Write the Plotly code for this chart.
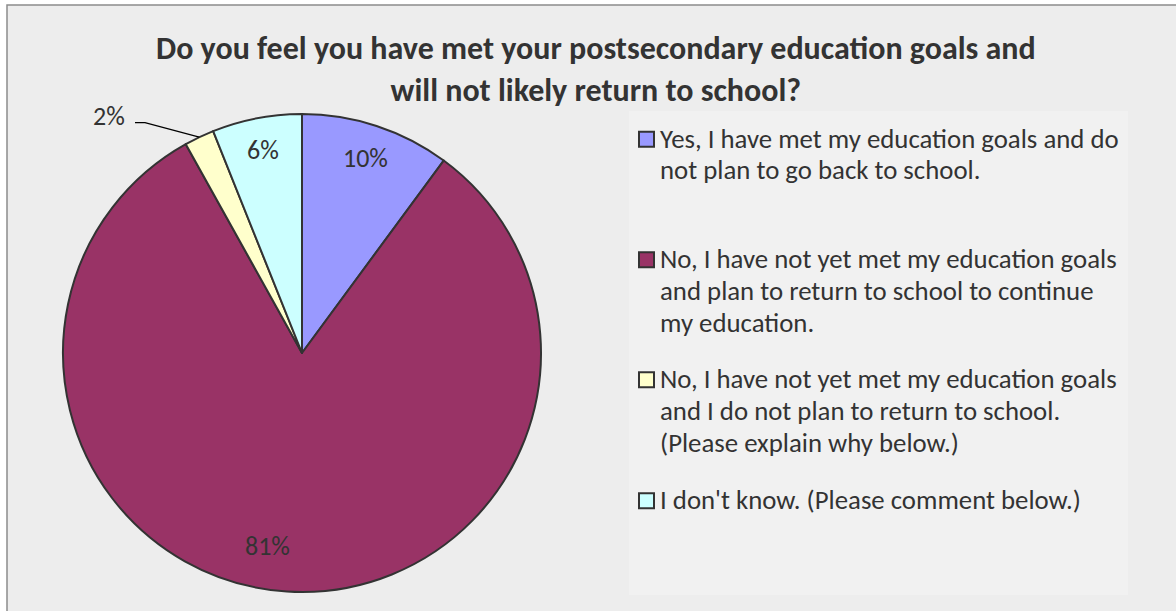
import math
import plotly.graph_objects as go

# ---- data ----
answers = [
    "Yes, I have met my education goals and do not plan to go back to school.",
    "No, I have not yet met my education goals and plan to return to school to continue my education.",
    "No, I have not yet met my education goals and I do not plan to return to school. (Please explain why below.)",
    "I don't know. (Please comment below.)",
]
legend_lines = [
    ["Yes, I have met my education goals and do", "not plan to go back to school."],
    ["No, I have not yet met my education goals", "and plan to return to school to continue", "my education."],
    ["No, I have not yet met my education goals", "and I do not plan to return to school.", "(Please explain why below.)"],
    ["I don't know. (Please comment below.)"],
]
percent_values = [10, 81, 2, 6]
slice_colors = ["#9999FF", "#993366", "#FFFFCC", "#CCFFFF"]
title_text = ("Do you feel you have met your postsecondary education goals and<br>"
              "will not likely return to school?")

# ---- layout constants (pixels) ----
W, H = 1176, 611
FONT = "Carlito, Lato, sans-serif"
TEXT = "#333333"
CX, CY, R = 302, 353, 239
LEGEND_FS = 26.8
LABEL_FS = 26
TITLE_FS = 32


def px(x):
    return x / W


def py(y):
    return 1 - y / H


fig = go.Figure()
fig.add_trace(go.Pie(
    labels=answers,
    values=percent_values,
    sort=False,
    direction="clockwise",
    rotation=0,
    marker=dict(colors=slice_colors, line=dict(color="#333333", width=2)),
    textinfo="none",
    hoverinfo="label+value",
    showlegend=False,
    domain=dict(x=[px(CX - R), px(CX + R)], y=[py(CY + R), py(CY - R)]),
))

shapes = []
annotations = []

# chart area and legend box backgrounds
shapes.append(dict(type="rect", xref="paper", yref="paper", layer="below",
                   x0=px(7), x1=px(W + 10), y0=py(H + 10), y1=py(5),
                   fillcolor="#EDEDED", line=dict(color="#8C8C8C", width=1.5)))
shapes.append(dict(type="rect", xref="paper", yref="paper", layer="below",
                   x0=px(629), x1=px(1128), y0=py(595), y1=py(111),
                   fillcolor="#F1F1F1", line=dict(width=0)))

# data labels placed along each slice's mid-angle
total = sum(percent_values)
label_radius = [205, 196, 0, 207]
label_angle_nudge = [0, 6.5, 0, 0]
cum = 0
for i, v in enumerate(percent_values):
    mid = (cum + v / 2) / total * 360
    cum += v
    a = math.radians(mid + label_angle_nudge[i])
    if i == 2:
        # small slice: label outside with a leader line
        ex, ey = CX + R * math.sin(a), CY - R * math.cos(a)
        shapes.append(dict(type="path", xref="paper", yref="paper",
                           path=f"M {px(ex)},{py(ey)} L {px(145)},{py(122.7)} L {px(135)},{py(122.7)}",
                           line=dict(color="#000000", width=1.3)))
        annotations.append(dict(x=px(127), y=py(116), xref="paper", yref="paper",
                                text=f"{v}%", showarrow=False, xanchor="right", yanchor="middle",
                                font=dict(family=FONT, size=LABEL_FS, color=TEXT)))
        continue
    lx, ly = CX + label_radius[i] * math.sin(a), CY - label_radius[i] * math.cos(a)
    annotations.append(dict(x=px(lx), y=py(ly), xref="paper", yref="paper",
                            text=f"{v}%", showarrow=False, xanchor="center", yanchor="middle",
                            font=dict(family=FONT, size=LABEL_FS, color=TEXT)))

# legend: colour squares and wrapped text lines
first_baselines = [146.7, 267.3, 387.3, 508.3]
line_step = 31.8
for i, lines in enumerate(legend_lines):
    b = first_baselines[i]
    shapes.append(dict(type="rect", xref="paper", yref="paper",
                       x0=px(639), x1=px(654), y0=py(b), y1=py(b - 15),
                       fillcolor=slice_colors[i], line=dict(color="#333333", width=2)))
    for j, line in enumerate(lines):
        yb = b + j * line_step
        annotations.append(dict(x=px(658), y=py(yb - 8.5), xref="paper", yref="paper",
                                text=line, showarrow=False, xanchor="left", yanchor="middle",
                                font=dict(family=FONT, size=LEGEND_FS, color=TEXT)))

# title
annotations.append(dict(x=px(596), y=py(27), xref="paper", yref="paper",
                        text=f"<b>{title_text}</b>", showarrow=False,
                        xanchor="center", yanchor="top", align="center",
                        font=dict(family=FONT, size=TITLE_FS, color=TEXT)))

fig.update_layout(
    width=W, height=H,
    margin=dict(l=0, r=0, t=0, b=0),
    paper_bgcolor="#FFFFFF",
    plot_bgcolor="#FFFFFF",
    shapes=shapes,
    annotations=annotations,
)

fig.write_html("out.html", config={"displayModeBar": False})
